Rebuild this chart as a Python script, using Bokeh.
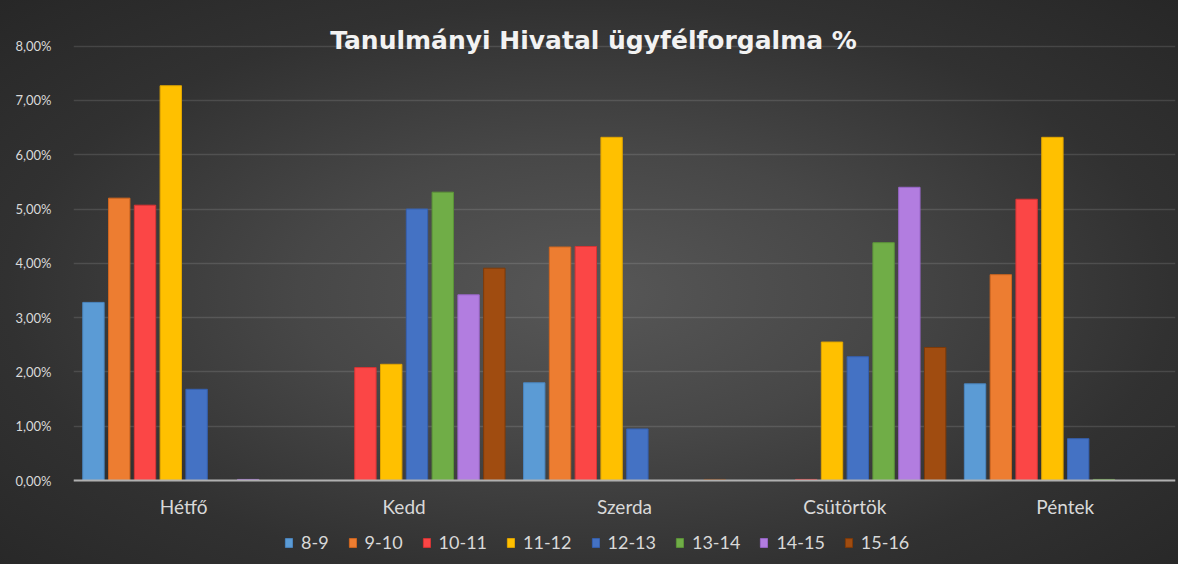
from bokeh.plotting import figure
from bokeh.models import FactorRange, FixedTicker, Legend, LegendItem, Label, ColumnDataSource
from bokeh.transform import dodge
from bokeh.embed import file_html
from bokeh.resources import INLINE

# ---- data ----
days = ["Hétfő", "Kedd", "Szerda", "Csütörtök", "Péntek"]
series_names = ["8-9", "9-10", "10-11", "11-12", "12-13", "13-14", "14-15", "15-16"]
s_8_9   = [3.28, 0.00, 1.80, 0.00, 1.78]
s_9_10  = [5.20, 0.00, 4.30, 0.00, 3.79]
s_10_11 = [5.07, 2.08, 4.31, 0.02, 5.18]
s_11_12 = [7.27, 2.14, 6.32, 2.55, 6.32]
s_12_13 = [1.68, 5.00, 0.95, 2.28, 0.77]
s_13_14 = [0.00, 5.31, 0.00, 4.38, 0.02]
s_14_15 = [0.02, 3.42, 0.00, 5.40, 0.00]
s_15_16 = [0.00, 3.91, 0.02, 2.45, 0.00]
y_ticks = [0, 1, 2, 3, 4, 5, 6, 7, 8]
y_tick_labels = ["0,00%", "1,00%", "2,00%", "3,00%", "4,00%", "5,00%", "6,00%", "7,00%", "8,00%"]
title_text = "Tanulmányi Hivatal ügyfélforgalma %"

series_values = [s_8_9, s_9_10, s_10_11, s_11_12, s_12_13, s_13_14, s_14_15, s_15_16]
colors = ["#5b9bd5", "#ed7d31", "#fb4646", "#ffc000", "#4472c4", "#70ad47", "#b27de0", "#a04c10"]
line_colors = ["#4a86c0", "#d0661f", "#d83434", "#e0a500", "#3560b0", "#5c9438", "#9866c8", "#7e3a08"]

FONT = "Lato"

src = ColumnDataSource(dict(day=days, **{n: v for n, v in zip(series_names, series_values)}))

p = figure(
    x_range=FactorRange(*days),
    y_range=(-1.473, 8.766),
    width=1178, height=564,
    output_backend="svg", toolbar_location=None,
    min_border_left=73, min_border_right=3, min_border_top=4, min_border_bottom=4,
)
p.styles = {"background-image": "radial-gradient(ellipse farthest-corner at 50% 52%, #575757 0%, #474747 35%, #313131 70%, #272727 100%)"}
p.background_fill_color = None
p.border_fill_color = None
p.outline_line_color = None

pitch = 0.117
bw = 0.097
items = []
for i, name in enumerate(series_names):
    r = p.vbar(x=dodge("day", (i - 3.5) * pitch, range=p.x_range), top=name, bottom=0, width=bw,
               source=src, fill_color=colors[i], line_color=line_colors[i], line_width=1)
    items.append(LegendItem(label=name, renderers=[r]))

# axes
p.yaxis.ticker = FixedTicker(ticks=y_ticks)
p.yaxis.major_label_overrides = {t: l for t, l in zip(y_ticks, y_tick_labels)}
p.yaxis.axis_line_color = None
p.yaxis.major_tick_line_color = None
p.yaxis.minor_tick_line_color = None
p.yaxis.major_label_standoff = 16
p.yaxis.major_label_text_font = FONT
p.yaxis.major_label_text_font_size = "13px"
p.yaxis.major_label_text_color = "#d9d9d9"

p.xaxis.fixed_location = 0
p.xaxis.axis_line_color = "#b0b0b0"
p.xaxis.axis_line_width = 2
p.xaxis.major_tick_line_color = None
p.xaxis.minor_tick_line_color = None
p.xaxis.major_label_standoff = 8
p.xaxis.major_label_text_font = FONT
p.xaxis.major_label_text_font_size = "19px"
p.xaxis.major_label_text_color = "#d9d9d9"

p.xgrid.grid_line_color = None
p.ygrid.grid_line_color = "#ffffff"
p.ygrid.grid_line_alpha = 0.12
p.ygrid.grid_line_width = 1.5

legend = Legend(items=items, orientation="horizontal", location=(211, 7),
                glyph_width=9, glyph_height=11, label_standoff=8, spacing=19,
                padding=0, margin=0, border_line_color=None, background_fill_alpha=0,
                label_text_font=FONT, label_text_font_size="18px", label_text_color="#d9d9d9")
p.add_layout(legend, "center")

title = Label(x=520, y=520, x_units="screen", y_units="screen", text=title_text,
              text_align="center", text_baseline="middle", text_font="DejaVu Sans",
              text_font_size="25px", text_font_style="bold", text_color="#f2f2f2")
p.add_layout(title)

open("out.html", "w").write(file_html(p, INLINE))
